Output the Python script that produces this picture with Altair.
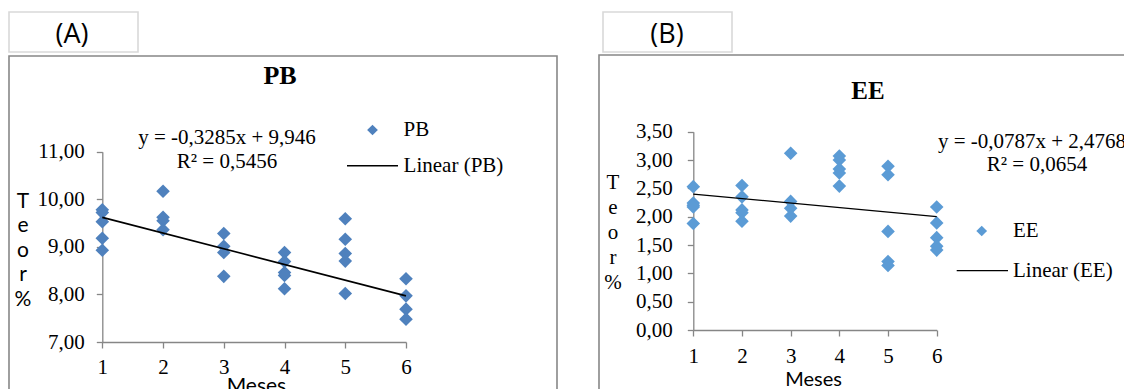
import altair as alt
import pandas as pd

# ---------------- data ----------------
pb_mes = [1, 1, 1, 1, 1, 2, 2, 2, 2, 3, 3, 3, 3, 4, 4, 4, 4, 4, 5, 5, 5, 5, 5, 6, 6, 6, 6]
pb_teor = [9.78, 9.72, 9.53, 9.18, 8.93,
           10.17, 9.62, 9.55, 9.36,
           9.28, 9.01, 8.88, 8.38,
           8.88, 8.69, 8.46, 8.40, 8.12,
           9.59, 9.16, 8.86, 8.70, 8.02,
           8.33, 7.97, 7.69, 7.48]

ee_mes = [1, 1, 1, 1, 1, 2, 2, 2, 2, 2, 3, 3, 3, 3, 4, 4, 4, 4, 4, 5, 5, 5, 5, 5, 6, 6, 6, 6, 6]
ee_teor = [2.53, 2.24, 2.20, 2.17, 1.88,
           2.55, 2.35, 2.12, 2.07, 1.92,
           3.12, 2.27, 2.15, 2.01,
           3.07, 3.00, 2.84, 2.77, 2.54,
           2.89, 2.74, 1.74, 1.21, 1.14,
           2.17, 1.89, 1.63, 1.48, 1.41]

pb_trend_mes = [1, 6]
pb_trend_teor = [9.62, 7.97]
ee_trend_mes = [1, 6]
ee_trend_teor = [2.40, 2.00]

mes_ticks = [1, 2, 3, 4, 5, 6]
pb_yticks = [7, 8, 9, 10, 11]
ee_yticks = [0, 0.5, 1.0, 1.5, 2.0, 2.5, 3.0, 3.5]

pb_title = "PB"
ee_title = "EE"
pb_eq = "y = -0,3285x + 9,946"
pb_r2 = "R² = 0,5456"
ee_eq = "y = -0,0787x + 2,4768"
ee_r2 = "R² = 0,0654"
ylabel = ["T", "e", "o", "r", "%"]
xlabel = "Meses"

# ---------------- styling ----------------
W, H = 1116, 381
SERIF = "Liberation Serif"
SANS = "Lato"
AXIS_GRAY = "#868686"
PB_COLOR = "#4F81BD"
EE_COLOR = "#5B9BD5"
FS = 21
comma_fmt = "replace(format(datum.value, '.2f'), '.', ',')"

pb_df = pd.DataFrame({"mes": pb_mes, "teor": pb_teor})
ee_df = pd.DataFrame({"mes": ee_mes, "teor": ee_teor})
pb_tr = pd.DataFrame({"mes": pb_trend_mes, "teor": pb_trend_teor})
ee_tr = pd.DataFrame({"mes": ee_trend_mes, "teor": ee_trend_teor})
one = alt.Data(values=[{"k": 0}])


def axis_x(offset, pad):
    return alt.Axis(orient="bottom", offset=offset, values=mes_ticks, format="d",
                    labelFont=SERIF, labelFontSize=FS, labelColor="#000",
                    domainColor=AXIS_GRAY, tickColor=AXIS_GRAY, tickSize=6,
                    domainWidth=1.3, tickWidth=1.3, labelPadding=pad,
                    labelFlush=False, labelOverlap=False, grid=False, title=None)


def axis_y(offset, vals, pad):
    return alt.Axis(orient="left", offset=offset, values=vals, labelExpr=comma_fmt,
                    labelFont=SERIF, labelFontSize=FS, labelColor="#000",
                    domainColor=AXIS_GRAY, tickColor=AXIS_GRAY, tickSize=6,
                    domainWidth=1.3, tickWidth=1.3, labelPadding=pad,
                    labelFlush=False, labelOverlap=False, grid=False, title=None)


# Panel A scales (pixel ranges of the plot area inside the canvas)
ax_x = alt.X("mes:Q", scale=alt.Scale(domain=[1, 6], range=[94.3, 398], nice=False, zero=False),
             axis=axis_x(334 - H, 8))
ax_y = alt.Y("teor:Q", scale=alt.Scale(domain=[7, 11], range=[334, 143.7], nice=False, zero=False),
             axis=axis_y(-94.3, pb_yticks, 12))
# Panel B scales
bx_x = alt.X("mes:Q", scale=alt.Scale(domain=[1, 6], range=[685.3, 928.7], nice=False, zero=False),
             axis=axis_x(322 - H, 9))
bx_y = alt.Y("teor:Q", scale=alt.Scale(domain=[0, 3.5], range=[322, 123.7], nice=False, zero=False),
             axis=axis_y(-685.3, ee_yticks, 15))

panel_a = alt.layer(
    alt.Chart(pb_df).mark_point(shape="diamond", filled=True, size=185, opacity=1, color=PB_COLOR)
    .encode(x=ax_x, y=ax_y),
    alt.Chart(pb_tr).mark_line(color="#000", strokeWidth=1.6).encode(x=ax_x, y=ax_y),
)
panel_b = alt.layer(
    alt.Chart(ee_df).mark_point(shape="diamond", filled=True, size=185, opacity=1, color=EE_COLOR)
    .encode(x=bx_x, y=bx_y),
    alt.Chart(ee_tr).mark_line(color="#000", strokeWidth=1.3).encode(x=bx_x, y=bx_y),
)


def box(x1, x2, y1, y2, stroke, sw, fill=None):
    m = alt.Chart(one).mark_rect(stroke=stroke, strokeWidth=sw,
                                 fill=fill if fill else "#ffffff",
                                 fillOpacity=1 if fill else 0)
    return m.encode(x=alt.value(x1), x2=alt.value(x2), y=alt.value(y1), y2=alt.value(y2))


def txt(x, y, s, font=SERIF, size=FS, bold=False, align="center", baseline="middle", lh=None):
    kw = dict(font=font, fontSize=size, fontWeight="bold" if bold else "normal",
              align=align, baseline=baseline, color="#000")
    if lh:
        kw["lineHeight"] = lh
    return alt.Chart(one).mark_text(**kw).encode(x=alt.value(x), y=alt.value(y), text=alt.value(s))


def legend_pt(x, y, color):
    return alt.Chart(one).mark_point(shape="diamond", filled=True, size=115, opacity=1,
                                     color=color).encode(x=alt.value(x), y=alt.value(y))


def legend_line(x1, x2, y, sw):
    return alt.Chart(one).mark_rule(color="#000", strokeWidth=sw).encode(
        x=alt.value(x1), x2=alt.value(x2), y=alt.value(y))


decor = [
    # frames
    box(1, 549, 48, 420, "#878787", 1.6),
    box(591, 1160, 47, 420, "#878787", 1.6),
    # label boxes
    box(1, 130, 4, 44, "#d9d9d9", 1.6, "#ffffff"),
    box(595, 724, 4, 44, "#d9d9d9", 1.6, "#ffffff"),
    txt(64, 27, "(A)", font="Open Sans", size=27),
    txt(659, 27, "(B)", font="Open Sans", size=27),
    # titles
    txt(272, 68, pb_title, size=26, bold=True),
    txt(860, 82.7, ee_title, size=25, bold=True),
    # equations
    txt(219, 130, pb_eq),
    txt(219, 154, pb_r2),
    txt(1024, 133.7, ee_eq),
    txt(1029, 157, ee_r2),
    # legends
    legend_pt(364.5, 122, PB_COLOR),
    txt(395.6, 122, pb_title, align="left"),
    legend_line(339, 390, 157.7, 1.6),
    txt(395.6, 157.7, "Linear (PB)", align="left"),
    legend_pt(973.7, 223, EE_COLOR),
    txt(1005, 222.5, ee_title, align="left"),
    legend_line(948.7, 1000, 262.7, 1.3),
    txt(1005, 262.7, "Linear (EE)", align="left"),
    # axis titles (first line centred at y)
    txt(15, 193.7, ylabel, font=SANS, size=21, lh=24.5),
    txt(605, 174.7, ylabel, font=SERIF, size=21, lh=25),
    txt(248.4, 385, xlabel, font=SANS, size=21, baseline="alphabetic"),
    txt(805.6, 378, xlabel, font=SANS, size=20, baseline="alphabetic"),
]

chart = alt.layer(*decor, panel_a, panel_b).resolve_scale(
    x="independent", y="independent"
).properties(
    width=W, height=H, padding=0,
    autosize=alt.AutoSizeParams(type="none"),
).configure_view(stroke=None)

chart.save("out.html", embed_options={"renderer": "svg", "actions": False})
